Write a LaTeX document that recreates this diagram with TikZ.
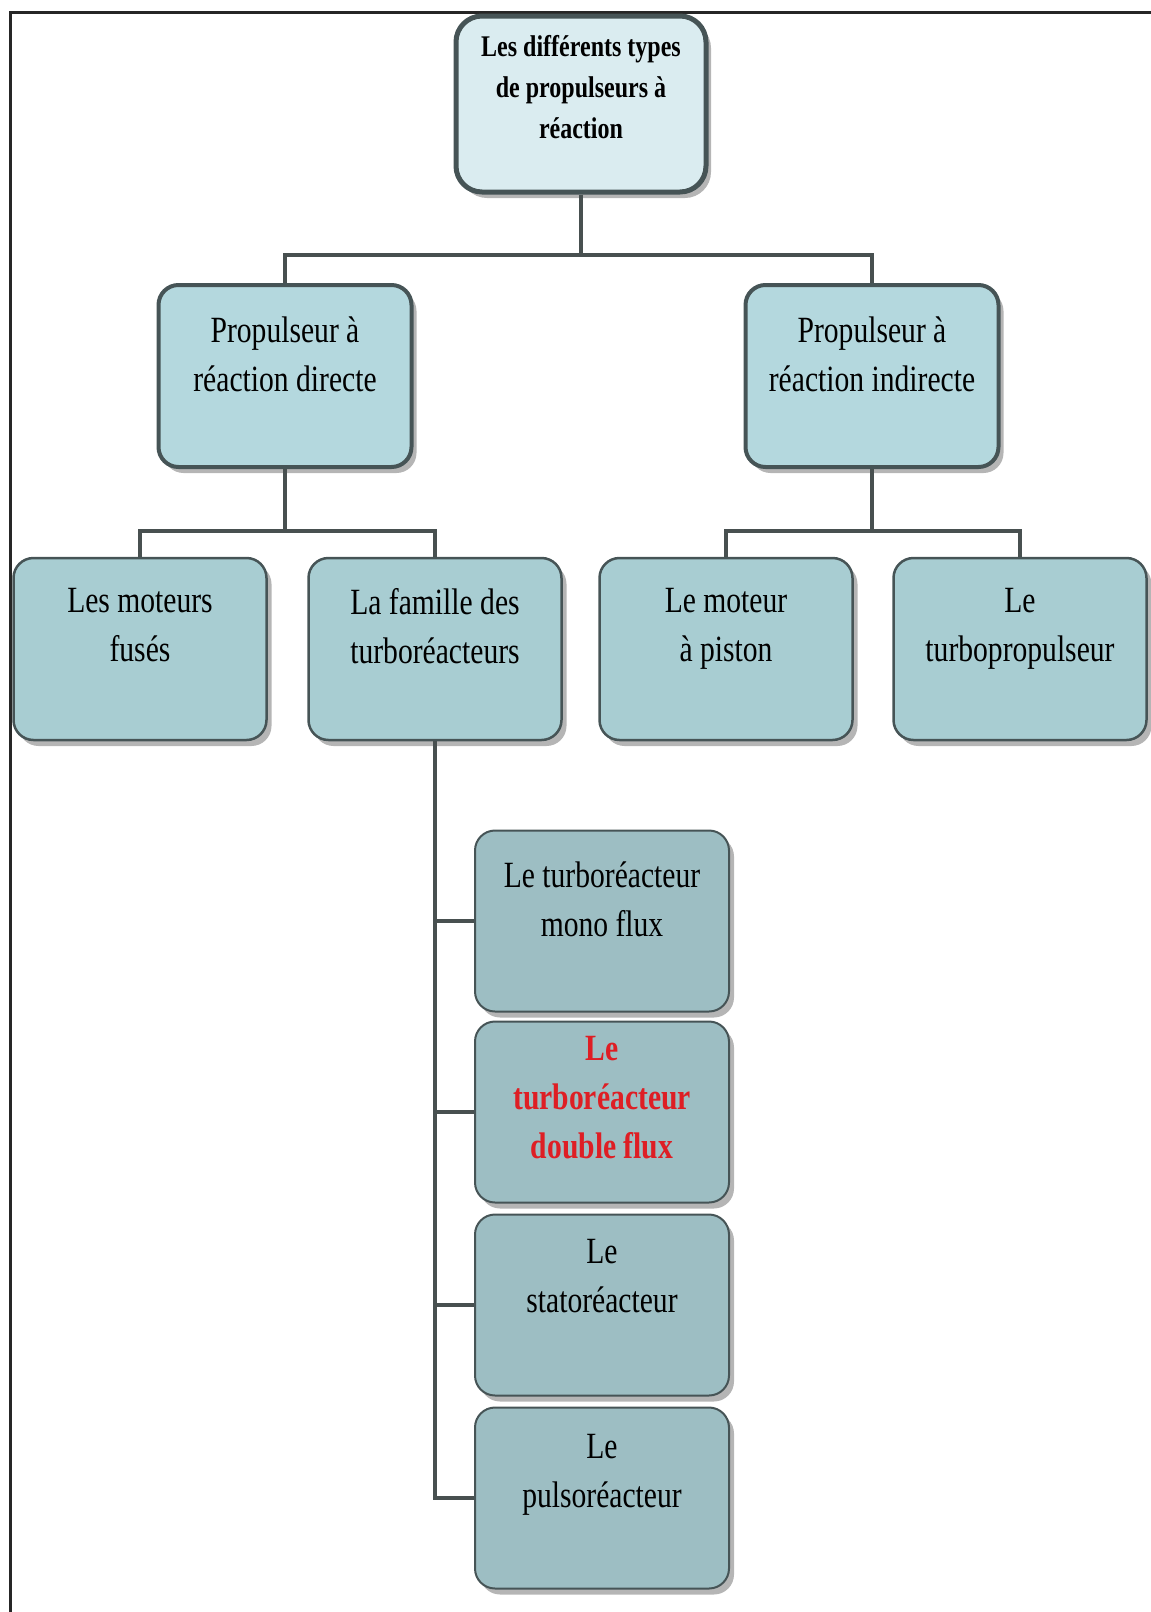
\documentclass[tikz,border=0pt]{standalone}
\usepackage{fontspec}
\setmainfont{Liberation Serif}[FakeStretch=0.8]
\usetikzlibrary{positioning, shadows}
\definecolor{topfill}{RGB}{218,236,240}
\definecolor{reacfill}{RGB}{180,216,222}
\definecolor{typefill}{RGB}{168,205,210}
\definecolor{turbofill}{RGB}{157,190,195}
\definecolor{boxedge}{RGB}{70,84,86}
\definecolor{linkgray}{RGB}{72,80,80}
\definecolor{shadowgray}{RGB}{150,150,150}
\definecolor{hotred}{RGB}{222,30,36}
\tikzset{
    box/.style = {
        draw = boxedge,
        rounded corners = 20pt,
        inner sep = 0pt,
        drop shadow = {shadow xshift=5pt, shadow yshift=-6pt, fill=shadowgray, opacity=0.7}
    },
    topbox/.style = {
        box, fill = topfill, line width = 5pt, rounded corners = 26pt,
        minimum width = 250pt, minimum height = 176pt
    },
    reacbox/.style = {
        box, fill = reacfill, line width = 4pt,
        minimum width = 253pt, minimum height = 182pt
    },
    typebox/.style = {
        box, fill = typefill, line width = 2.5pt,
        minimum width = 253pt, minimum height = 182pt
    },
    turbobox/.style = {
        box, fill = turbofill, line width = 2pt,
        minimum width = 254pt, minimum height = 181pt
    },
    txt/.style = {
        align = center,
        inner sep = 0pt,
        font = {\fontsize{37}{49}\selectfont}
    },
    toptxt/.style = {
        txt,
        font = {\bfseries\fontsize{30}{41}\selectfont}
    },
    link/.style = {
        draw = linkgray,
        line width = 4pt
    }
}

\begin{document}
\begin{tikzpicture}[x=1pt, y=-1pt]
    \useasboundingbox (0,0) rectangle (1151,1612);
    % frame
    \draw[line width=3pt, black!85] (10,1612) -- (10,12) -- (1151,12);

    % boxes
    \node[topbox] (types) at (581,104) {};
    \node[reacbox] (direct) at (285,376) {};
    \node[reacbox] (indirect) at (872,376) {};
    \node[typebox] (fuses) at (140,649) {};
    \node[typebox] (famille) at (435,649) {};
    \node[typebox] (piston) at (726,649) {};
    \node[typebox] (turboprop) at (1020,649) {};
    \foreach \nm/\yy in {mono/921, double/1112, stato/1305, pulso/1498}{
        \node[turbobox] (\nm) at (602,\yy) {};
    }

    % texts
    \node[toptxt, below=22pt of types.north] (typestxt) {Les différents types\\de propulseurs à\\réaction};
    \node[txt, below=34pt of direct.north] (directtxt) {Propulseur à\\réaction directe};
    \node[txt, below=34pt of indirect.north] (indirecttxt) {Propulseur à\\réaction indirecte};
    \node[txt, below=31pt of fuses.north] (fusestxt) {Les moteurs\\fusés};
    \node[txt, below=31pt of famille.north] (familletxt) {La famille des\\turboréacteurs};
    \node[txt, below=31pt of piston.north] (pistontxt) {Le moteur\\à piston};
    \node[txt, below=31pt of turboprop.north] (turboproptxt) {Le\\turbopropulseur};
    \node[txt, below=32pt of mono.north] (monotxt) {Le turboréacteur\\mono flux};
    \node[txt, below=16pt of double.north, text=hotred, font={\bfseries\fontsize{37}{49}\selectfont}] (doubletxt) {Le\\turboréacteur\\double flux};
    \node[txt, below=26pt of stato.north] (statotxt) {Le\\statoréacteur};
    \node[txt, below=28pt of pulso.north] (pulsotxt) {Le\\pulsoréacteur};

    % links
    \draw[link] (types.south) -- ++(0,60) -| (direct.north);
    \draw[link] (types.south) -- ++(0,60) -| (indirect.north);
    \draw[link] (direct.south) -- ++(0,62) -| (fuses.north);
    \draw[link] (direct.south) -- ++(0,62) -| (famille.north);
    \draw[link] (indirect.south) -- ++(0,62) -| (piston.north);
    \draw[link] (indirect.south) -- ++(0,62) -| (turboprop.north);
    \foreach \nm in {mono, double, stato, pulso}{
        \draw[link] (famille.south) |- (\nm.west);
    }
\end{tikzpicture}
\end{document}
